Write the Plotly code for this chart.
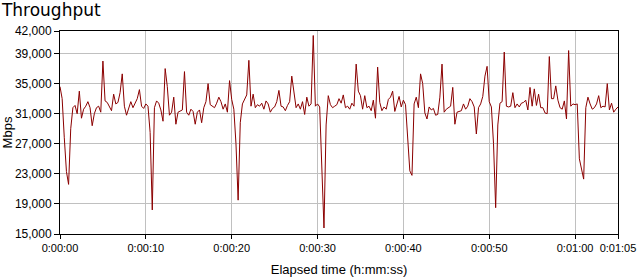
import plotly.graph_objects as go

# Sample interval (seconds) and throughput readings (thousands of Mbps), every 0.25 s
step_s = 0.25
throughput_k = [
    34.6, 33.0, 27.8, 23.3,
    21.6, 29.0, 31.8, 32.1,
    31.0, 34.0, 30.4, 31.6,
    32.0, 32.6, 31.8, 29.4,
    31.0, 31.8, 32.0, 31.2,
    38.0, 32.7, 32.5, 32.0,
    31.4, 33.6, 32.3, 32.5,
    33.8, 36.3, 32.0, 30.8,
    31.9, 32.6, 31.8, 32.4,
    33.0, 34.2, 32.0, 31.7,
    32.3, 32.0, 28.5, 18.2,
    31.8, 32.7, 32.4, 31.5,
    30.0, 37.0, 34.6, 30.8,
    31.2, 33.2, 29.6, 31.2,
    31.4, 31.5, 36.6, 31.2,
    30.8, 31.6, 31.3, 29.6,
    31.2, 31.5, 29.8, 31.8,
    32.6, 35.0, 32.2, 32.0,
    31.8, 32.4, 33.2, 32.6,
    31.6, 32.3, 31.2, 35.4,
    32.9, 31.6, 27.0, 19.5,
    29.8, 32.3, 33.0, 33.5,
    38.1, 32.0, 33.6, 31.8,
    32.2, 32.0, 32.4, 31.6,
    32.7, 32.3, 31.2, 31.7,
    31.9, 32.6, 34.1, 32.0,
    31.9, 31.4, 32.1, 32.6,
    36.0, 33.6, 31.8, 32.3,
    31.6, 32.6, 30.9, 33.2,
    32.0, 32.3, 41.4, 32.0,
    32.3, 31.9, 24.3, 15.8,
    29.5, 33.4, 32.2, 31.8,
    32.0, 32.2, 33.0, 32.4,
    33.5, 31.8, 32.0, 31.6,
    32.4, 32.0, 37.6, 34.0,
    33.4, 31.6, 33.4, 31.8,
    32.0, 31.4, 32.8, 30.4,
    37.2, 32.5, 31.4, 31.9,
    31.6, 32.9, 33.2, 34.0,
    31.3, 32.2, 33.3, 31.9,
    32.8, 32.2, 28.1, 23.4,
    22.8, 32.3, 33.2, 31.8,
    36.3, 35.0, 31.1, 30.3,
    31.9, 31.5, 31.7, 30.8,
    30.9, 33.2, 37.6, 31.2,
    31.6, 31.8, 32.0, 34.5,
    29.6, 31.2, 31.3, 31.4,
    32.3, 31.6, 32.0, 33.0,
    32.6, 31.9, 28.3, 31.8,
    32.3, 33.3, 36.0, 37.3,
    32.6, 31.9, 27.0, 18.5,
    29.5, 32.4, 32.6, 39.2,
    32.0, 31.9, 32.0, 33.8,
    31.8, 32.3, 31.9, 32.4,
    32.5, 32.8, 31.5, 34.5,
    32.0, 34.3, 32.1, 33.6,
    31.8, 31.8, 31.1, 31.0,
    38.6, 33.0, 33.0, 34.7,
    32.8, 31.8, 31.6, 32.7,
    30.3, 39.4, 32.0, 32.3,
    32.2, 32.3, 25.0, 23.8,
    22.3, 31.8, 33.2, 32.3,
    31.6, 31.8, 32.3, 33.4,
    31.8, 32.0, 31.9, 35.0,
    31.5, 32.4, 31.2, 31.6,
    31.9,
]
elapsed_s = [i * step_s for i in range(len(throughput_k))]
throughput_mbps = [v * 1000 for v in throughput_k]

x_tick_vals = [0, 10, 20, 30, 40, 50, 60, 65]
x_tick_text = ["0:00:00", "0:00:10", "0:00:20", "0:00:30", "0:00:40",
               "0:00:50", "0:01:00", "0:01:05"]
y_tick_vals = [15000, 19000, 23000, 27000, 31000, 35000, 39000, 42000]
y_tick_text = ["15,000", "19,000", "23,000", "27,000", "31,000",
               "35,000", "39,000", "42,000"]

fig = go.Figure()
fig.add_trace(go.Scatter(
    x=elapsed_s, y=throughput_mbps, mode="lines",
    line=dict(color="#8B0000", width=1), showlegend=False,
))

y_tick_font = dict(family="Liberation Sans, Arial, sans-serif", size=12, color="black")
x_tick_font = dict(family="Liberation Sans, Arial, sans-serif", size=11, color="black")
fig.update_layout(
    width=640, height=280,
    margin=dict(l=60, r=22, t=31, b=46),
    paper_bgcolor="white", plot_bgcolor="white",
    title=dict(text="Throughput", x=0.003, xref="container", xanchor="left",
               y=0.985, yref="container", yanchor="top",
               font=dict(family="DejaVu Sans, sans-serif", size=17, color="black")),
    xaxis=dict(
        range=[0, 65], tickmode="array", tickvals=x_tick_vals, ticktext=x_tick_text,
        tickangle=0, automargin=False,
        ticks="outside", ticklen=4, tickcolor="black", tickfont=x_tick_font,
        showgrid=True, gridcolor="#C0C0C0", gridwidth=1, zeroline=False,
        showline=True, linecolor="black", linewidth=1, mirror=True,
        title=dict(text="Elapsed time (h:mm:ss)", standoff=11,
                   font=dict(family="Liberation Sans, Arial, sans-serif", size=13, color="black")),
    ),
    yaxis=dict(
        range=[15000, 42000], tickmode="array", tickvals=y_tick_vals, ticktext=y_tick_text,
        automargin=False,
        ticks="outside", ticklen=5, tickcolor="black", tickfont=y_tick_font,
        showgrid=True, gridcolor="#C0C0C0", gridwidth=1, zeroline=False,
        showline=True, linecolor="black", linewidth=1, mirror=True,
        title=dict(text="Mbps", standoff=2,
                   font=dict(family="Liberation Sans, Arial, sans-serif", size=13, color="black")),
    ),
)

fig.write_html("out.html")
